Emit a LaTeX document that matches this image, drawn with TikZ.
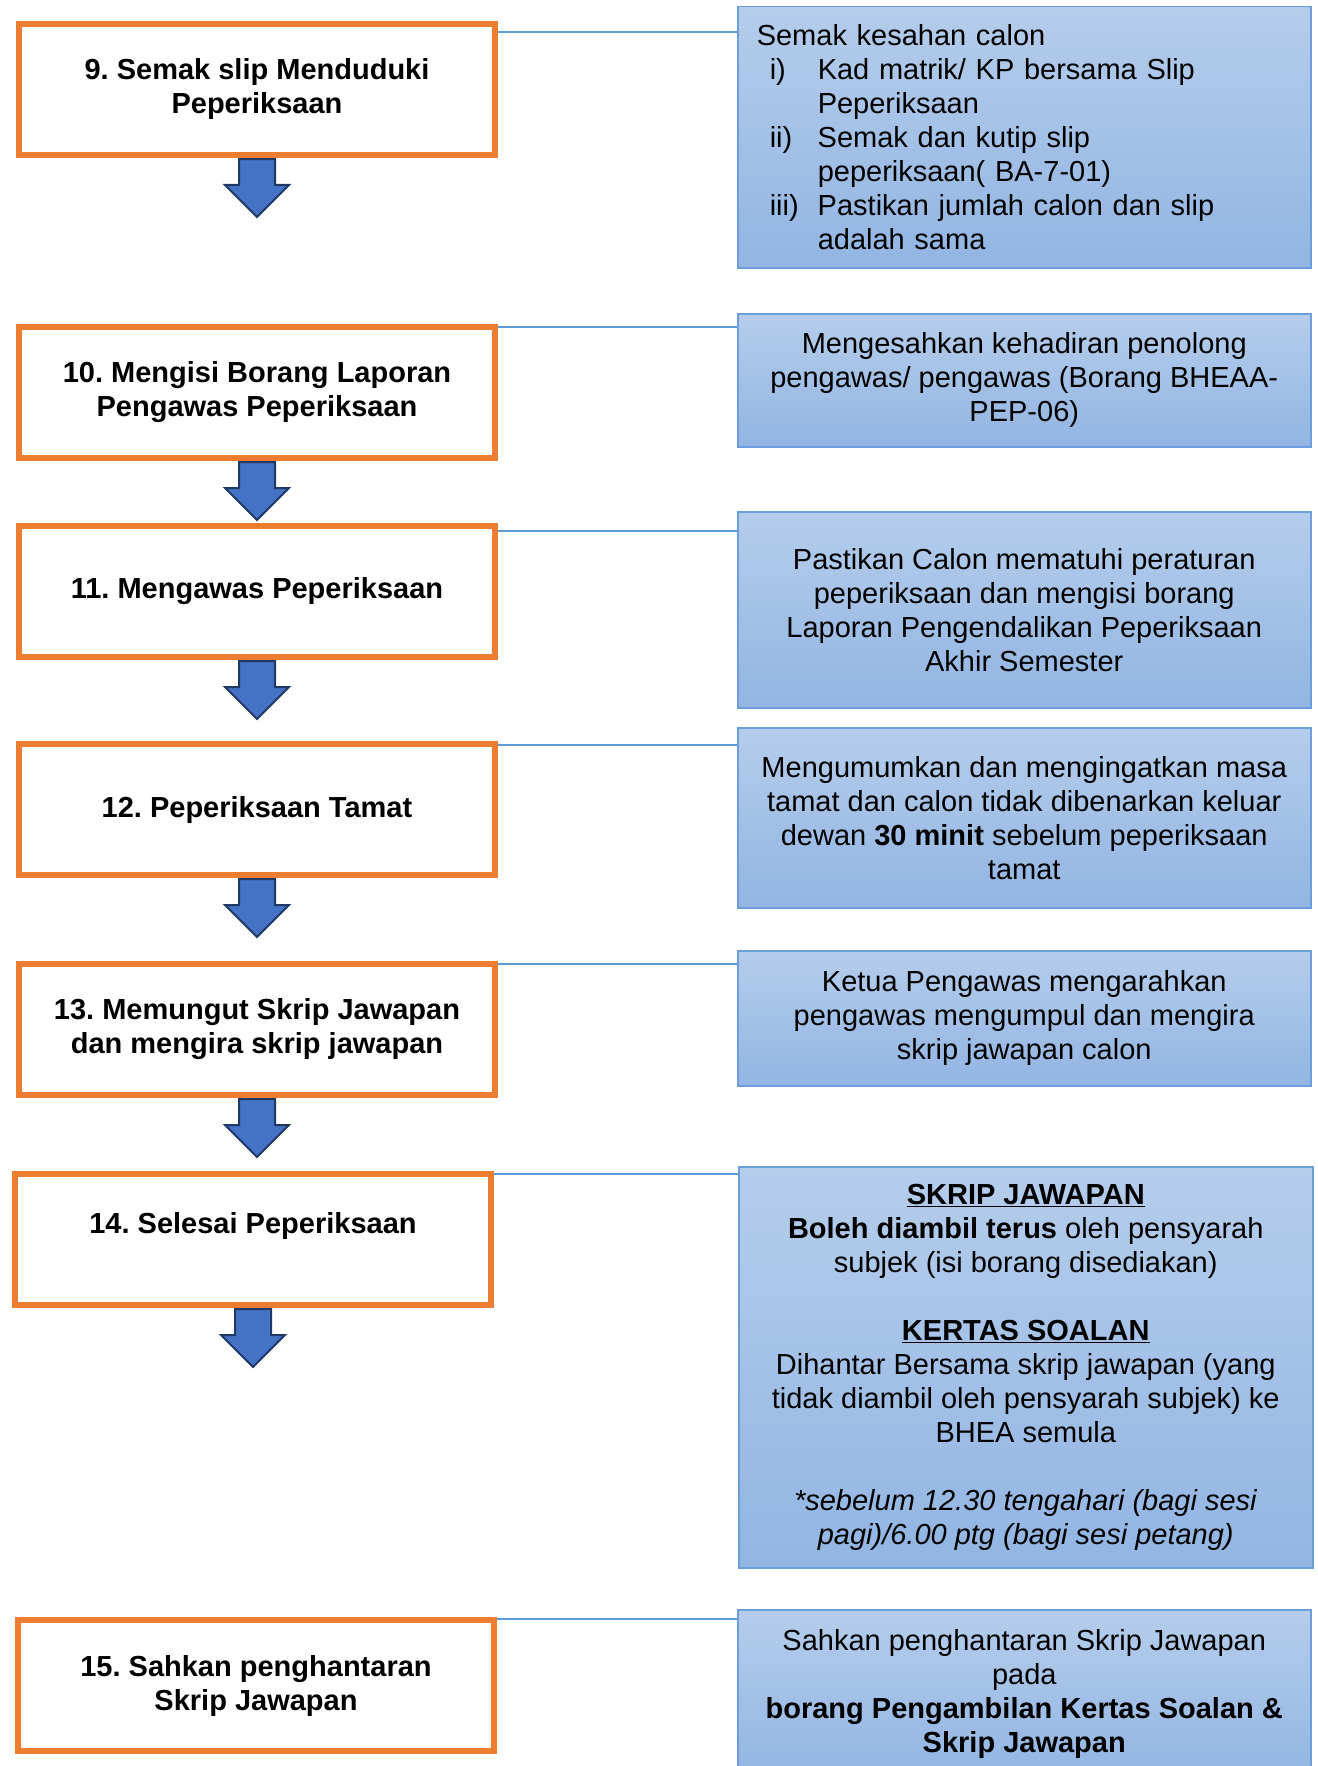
\documentclass[tikz,border=0pt]{standalone}
\usepackage{fontspec}
\setmainfont{Liberation Sans}
\usetikzlibrary{shapes.arrows,shadows,positioning}
\definecolor{orangeedge}{HTML}{ED7D31}
\definecolor{arrowblue}{HTML}{4472C4}
\definecolor{arrowedge}{HTML}{1F3864}
\definecolor{notetop}{HTML}{B5CDEB}
\definecolor{notebottom}{HTML}{92B5E3}
\definecolor{noteedge}{HTML}{6D9EDC}
\definecolor{linkblue}{HTML}{5B9BD5}
\newcommand{\itemlbl}[1]{\hspace*{13pt}\makebox[48pt][l]{#1}}
\newcommand{\itemgap}{\hspace*{61pt}}
\frenchspacing

\begin{document}
\begin{tikzpicture}[
  x=1pt, y=-1pt,
  every node/.style={font=\fontsize{29}{34}\selectfont},
  stepbox/.style={draw=orangeedge, line width=6pt, fill=white, minimum width=476pt,
    minimum height=131pt, align=center, anchor=north west,
    font=\fontsize{29}{34}\selectfont\bfseries,
    drop shadow={shadow xshift=-3pt, shadow yshift=-3pt, opacity=0.25}},
  notebox/.style={draw=noteedge, line width=1.5pt, top color=notetop, bottom color=notebottom,
    minimum width=573pt, align=center, anchor=north west, inner ysep=2pt},
  downarrow/.style={single arrow, draw=arrowedge, fill=arrowblue, line width=2pt,
    minimum height=58pt, text height=17pt, text depth=17pt, single arrow head extend=14pt,
    single arrow head indent=0pt, inner sep=0pt, rotate=-90, anchor=tail},
  link/.style={draw=linkblue, line width=1.2pt}
]
\useasboundingbox (0,0) rectangle (1317,1766);

\node[stepbox] (b9) at (16,21) {9. Semak slip Menduduki\\Peperiksaan};
\node[stepbox] (b10) at (16,324) {10. Mengisi Borang Laporan\\Pengawas Peperiksaan};
\node[stepbox] (b11) at (16,523) {11. Mengawas Peperiksaan};
\node[stepbox] (b12) at (16,741) {12. Peperiksaan Tamat};
\node[stepbox] (b13) at (16,961) {13. Memungut Skrip Jawapan\\dan mengira skrip jawapan};
\node[stepbox] (b14) at (12,1171) {14. Selesai Peperiksaan\\\mbox{}};
\node[stepbox] (b15) at (15,1617) {15. Sahkan penghantaran\\Skrip Jawapan};

\node[notebox, align=left, text width=535pt, inner xsep=19pt, minimum height=261pt] (r9) at (737,6)
  {Semak kesahan calon\\
   \itemlbl{i)}Kad matrik/ KP bersama Slip\\
   \itemgap Peperiksaan\\
   \itemlbl{ii)}Semak dan kutip slip\\
   \itemgap peperiksaan( BA-7-01)\\
   \itemlbl{iii)}Pastikan jumlah calon dan slip\\
   \itemgap adalah sama};
\node[notebox, minimum height=133pt] (r10) at (737,313)
  {Mengesahkan kehadiran penolong\\pengawas/ pengawas (Borang BHEAA-\\PEP-06)};
\node[notebox, minimum height=196pt] (r11) at (737,511)
  {Pastikan Calon mematuhi peraturan\\peperiksaan dan mengisi borang\\Laporan Pengendalikan Peperiksaan\\Akhir Semester};
\node[notebox, minimum height=180pt] (r12) at (737,727)
  {Mengumumkan dan mengingatkan masa\\tamat dan calon tidak dibenarkan keluar\\dewan \textbf{30 minit} sebelum peperiksaan\\tamat};
\node[notebox, minimum height=135pt] (r13) at (737,950)
  {Ketua Pengawas mengarahkan\\pengawas mengumpul dan mengira\\skrip jawapan calon};
\node[notebox, minimum width=574pt, minimum height=401pt] (r14) at (738,1166)
  {\underline{\textbf{SKRIP JAWAPAN}}\\
   \textbf{Boleh diambil terus} oleh pensyarah\\
   subjek (isi borang disediakan)\\[34pt]
   \underline{\textbf{KERTAS SOALAN}}\\
   Dihantar Bersama skrip jawapan (yang\\
   tidak diambil oleh pensyarah subjek) ke\\
   BHEA semula\\[34pt]
   \textit{*sebelum 12.30 tengahari (bagi sesi}\\
   \textit{pagi)/6.00 ptg (bagi sesi petang)}};
\node[notebox, minimum height=168pt] (r15) at (737,1609)
  {Sahkan penghantaran Skrip Jawapan\\pada\\\textbf{borang Pengambilan Kertas Soalan \&}\\\textbf{Skrip Jawapan}};

\foreach \n in {9,...,14}
  \node[downarrow] (a\n) at (b\n.south) {};

\foreach \n/\d in {9/11,10/3,11/8,12/4,13/3,14/3,15/2}{
  \coordinate (c\n) at ([yshift=-\d pt]b\n.north east);
  \draw[link] (c\n) -- (c\n -| r\n.west);
}
\end{tikzpicture}
\end{document}
